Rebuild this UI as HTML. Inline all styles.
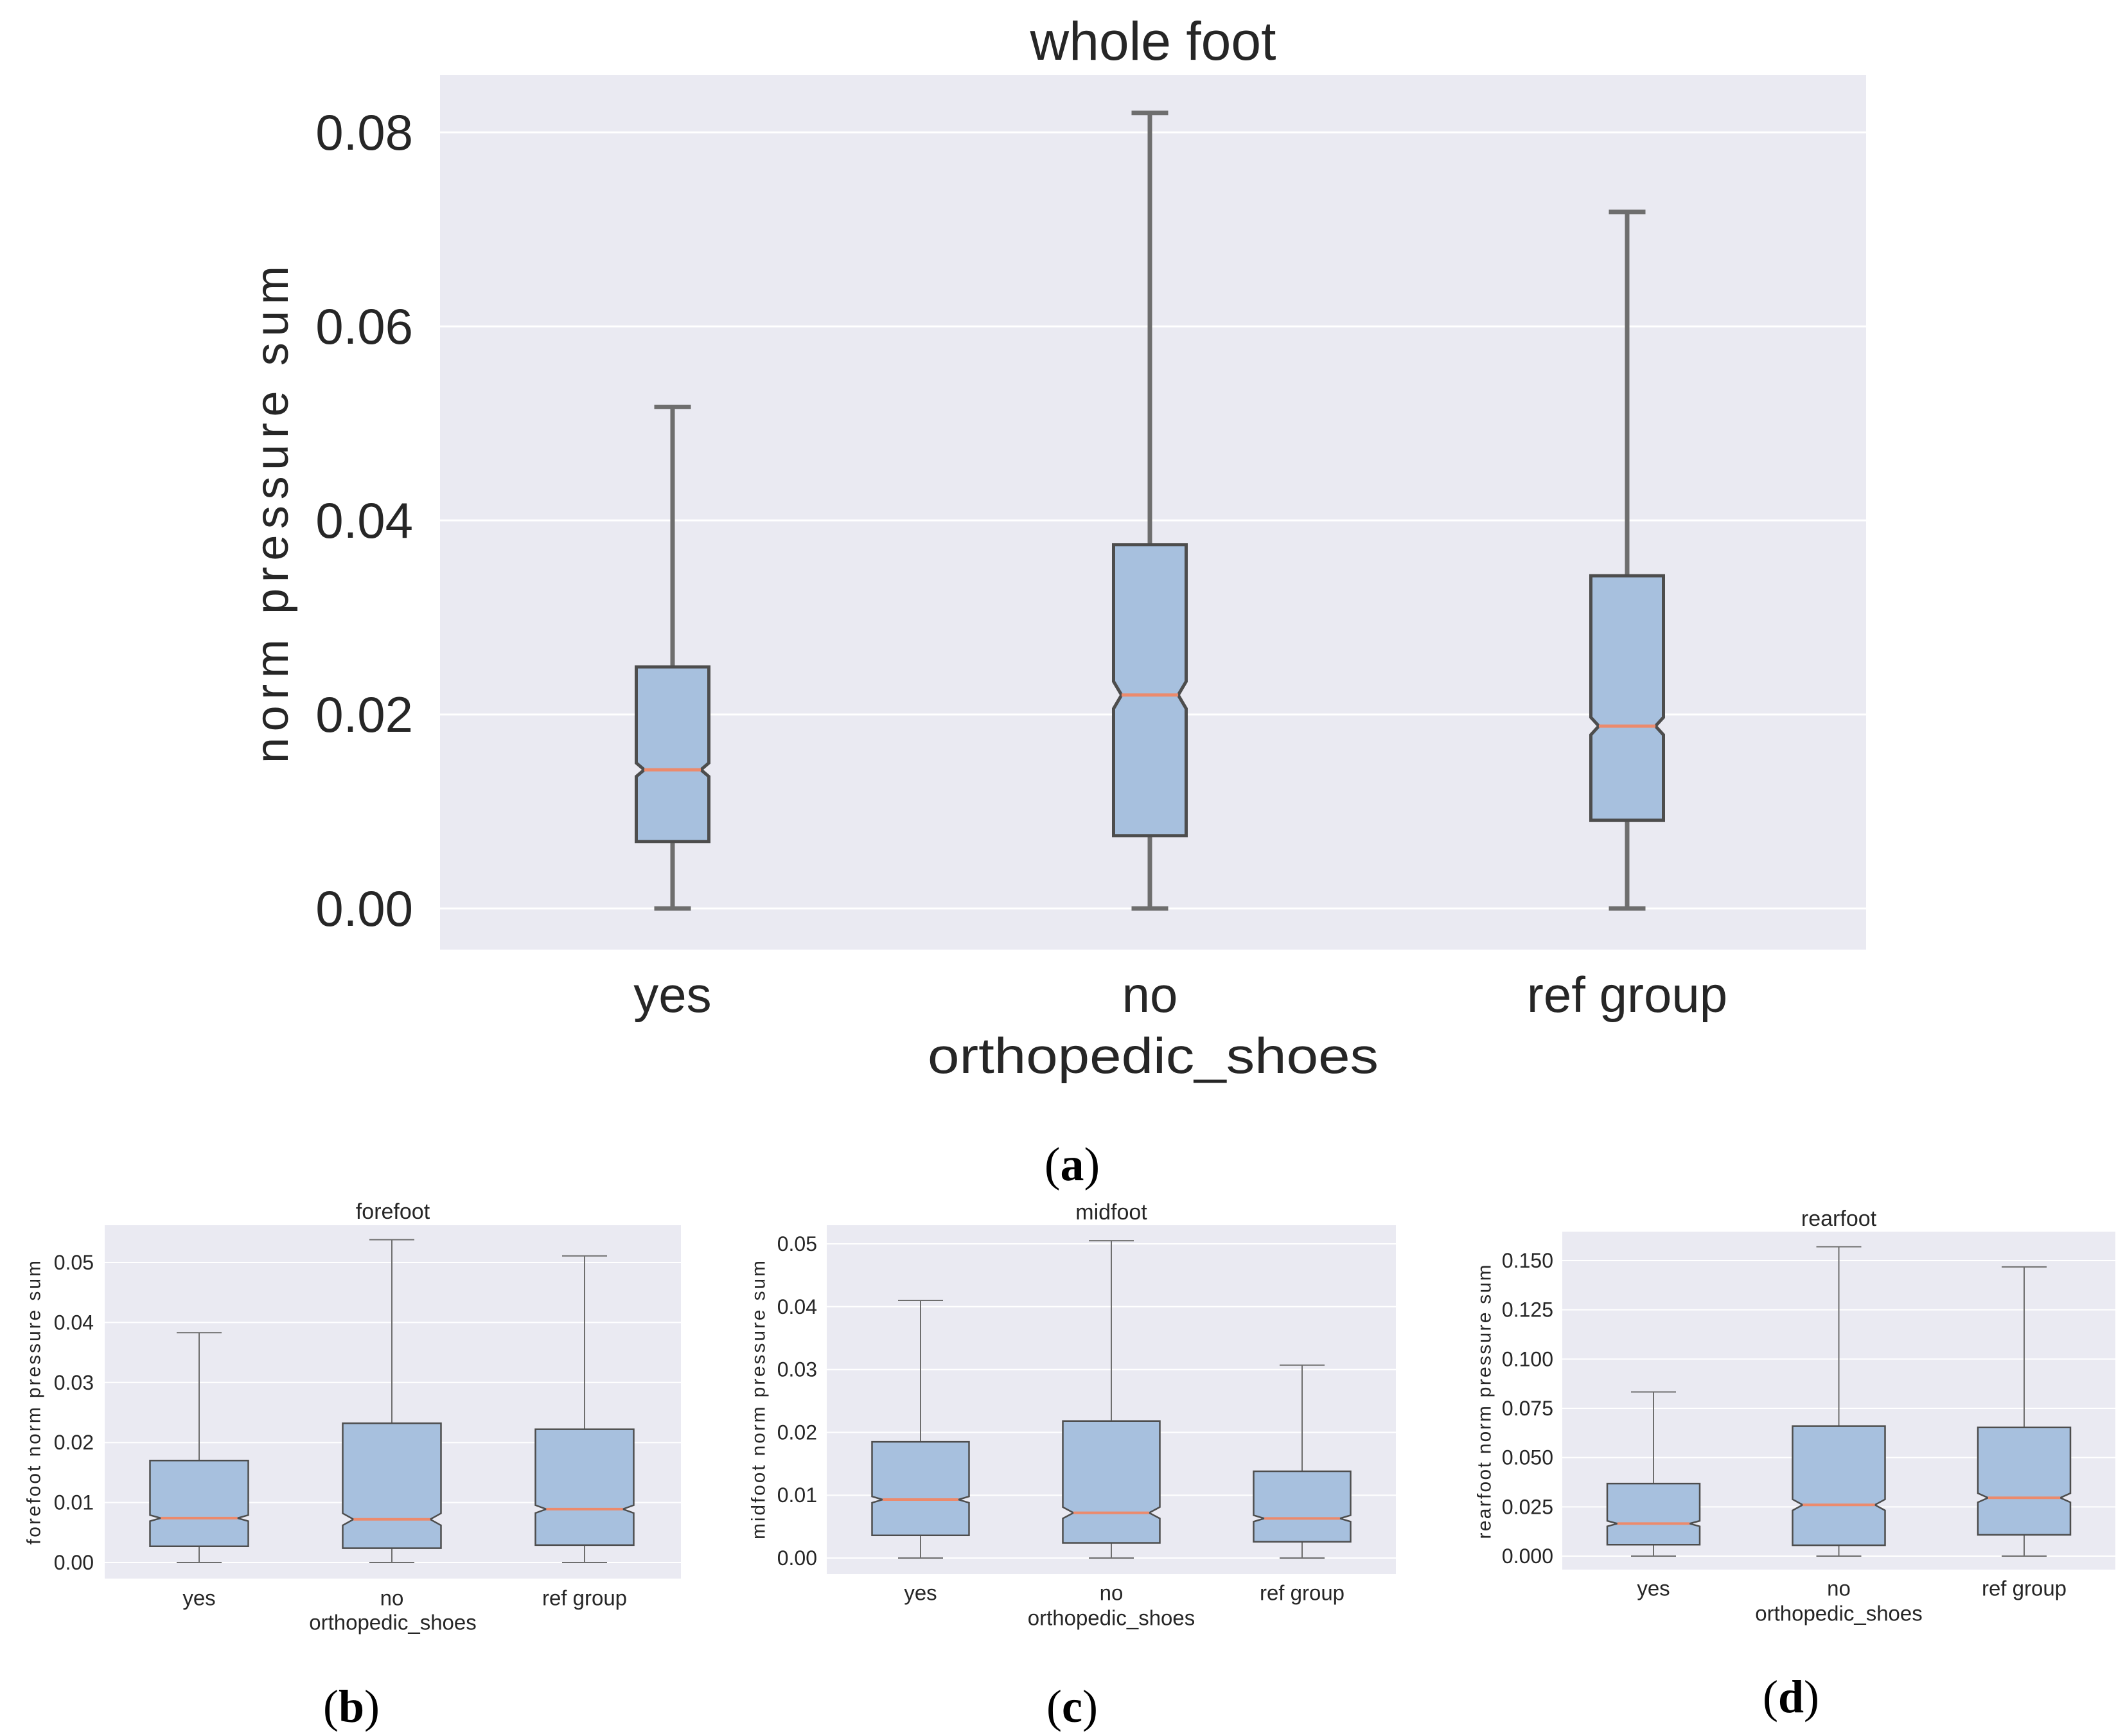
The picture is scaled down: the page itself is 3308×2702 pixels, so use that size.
<!DOCTYPE html>
<html><head><meta charset="utf-8"><style>
html,body{margin:0;padding:0;background:#fff;}
svg{display:block;font-family:"Liberation Sans",sans-serif;}
</style></head><body>
<svg id="fig" width="3308" height="2702" viewBox="0 0 3308 2702" xmlns="http://www.w3.org/2000/svg"></svg>
<script>
// ---- data ----
const categories = ['yes','no','ref group'];
// whole foot
const wholeLo = [0, 0, 0];
const wholeQ1 = [0.0069, 0.0075, 0.0091];
const wholeMed = [0.0143, 0.0220, 0.0188];
const wholeQ3 = [0.0249, 0.0375, 0.0343];
const wholeHi = [0.0517, 0.0820, 0.0718];
const wholeNotch = [0.0007, 0.0014, 0.0009];
const wholeTicks = ['0.00','0.02','0.04','0.06','0.08'];
// forefoot
const foreLo = [0, 0, 0];
const foreQ1 = [0.0027, 0.0024, 0.0029];
const foreMed = [0.0074, 0.0072, 0.0089];
const foreQ3 = [0.0170, 0.0232, 0.0222];
const foreHi = [0.0383, 0.0538, 0.0511];
const foreNotch = [0.0005, 0.0010, 0.00065];
const foreTicks = ['0.00','0.01','0.02','0.03','0.04','0.05'];
// midfoot
const midLo = [0, 0, 0];
const midQ1 = [0.0036, 0.0024, 0.0026];
const midMed = [0.0093, 0.0072, 0.0063];
const midQ3 = [0.0185, 0.0218, 0.0138];
const midHi = [0.0410, 0.0505, 0.0307];
const midNotch = [0.0005, 0.0009, 0.0005];
const midTicks = ['0.00','0.01','0.02','0.03','0.04','0.05'];
// rearfoot
const rearLo = [0, 0, 0];
const rearQ1 = [0.0058, 0.0055, 0.0108];
const rearMed = [0.0165, 0.0260, 0.0296];
const rearQ3 = [0.0368, 0.0660, 0.0653];
const rearHi = [0.0833, 0.1570, 0.1468];
const rearNotch = [0.0014, 0.0028, 0.0023];
const rearTicks = ['0.000','0.025','0.050','0.075','0.100','0.125','0.150'];

const NS='http://www.w3.org/2000/svg';
const svg=document.getElementById('fig');
function mk(tag,attrs,parent){const e=document.createElementNS(NS,tag);for(const k in attrs)e.setAttribute(k,attrs[k]);(parent||svg).appendChild(e);return e;}
function txt(x,y,s,size,anchor,parent,extra){const t=mk('text',Object.assign({x:x,y:y,'font-size':size,'text-anchor':anchor||'middle','dominant-baseline':'central',fill:'#262626'},extra||{}),parent);t.textContent=s;return t;}

function chart(c){
  const g=mk('g',{});
  
  
  const bg=mk('rect',{x:c.px0,y:c.py0,width:c.px1-c.px0,height:c.py1-c.py0,fill:'#eaeaf2'},g);
  
  
  const y=v=>c.y0+(c.y1-c.y0)*(v-c.v0)/(c.v1-c.v0);
  const tv=c.ticks.map(Number);
  tv.forEach((v,i)=>{
    const l=mk('line',{x1:c.px0,x2:c.px1,y1:y(v),y2:y(v),stroke:'#fff','stroke-width':c.grid},g);
    
    
    const t=txt(c.tickX,y(v),c.ticks[i],c.tickFs,'end',g);
    
    
  });
  const xc=i=>c.cx0+i*c.dx;
  for(let i=0;i<categories.length;i++){
    const x=xc(i),hw=c.bw/2,nw=hw*0.78;
    const yq1=y(c.q1[i]),yq3=y(c.q3[i]),ym=y(c.med[i]),yl=y(c.med[i]-c.notch[i]),yh=y(c.med[i]+c.notch[i]);
    const wl=[[c.q1[i],c.lo[i]],[c.q3[i],c.hi[i]]];
    wl.forEach(p=>{
      const w=mk('line',{x1:x,x2:x,y1:y(p[0]),y2:y(p[1]),stroke:'#6e6e6e','stroke-width':c.wl},g);
      
      
      const cap=mk('line',{x1:x-c.cap/2,x2:x+c.cap/2,y1:y(p[1]),y2:y(p[1]),stroke:'#6e6e6e','stroke-width':c.wl},g);
      
      
    });
    const d=`M${x-hw},${yq1} L${x+hw},${yq1} L${x+hw},${yl} L${x+nw},${ym} L${x+hw},${yh} L${x+hw},${yq3} L${x-hw},${yq3} L${x-hw},${yh} L${x-nw},${ym} L${x-hw},${yl} Z`;
    const b=mk('path',{d:d,fill:'#a7c0de',stroke:'#4d4d4d','stroke-width':c.el,'stroke-linejoin':'miter'},g);
    
    
    const m=mk('line',{x1:x-nw,x2:x+nw,y1:ym,y2:ym,stroke:'#ec8a6c','stroke-width':c.ml},g);
    
    
    const t=txt(x,c.xtY,categories[i],c.xtFs,'middle',g);
    
    
  }
  const ti=txt((c.px0+c.px1)/2,c.titleY,c.title,c.titleFs,'middle',g);
  
  
  const xl=txt((c.px0+c.px1)/2,c.xlY,'orthopedic_shoes',c.xtFs,'middle',g,c.xlLen?{textLength:c.xlLen,lengthAdjust:'spacingAndGlyphs'}:{});
  
  
  const yl=txt(0,0,c.ylabel,c.ylFs,'middle',g,{transform:`translate(${c.ylX},${c.ylY}) rotate(-90)`,textLength:c.ylLen,lengthAdjust:'spacing'});
  
  
  const pl=mk('text',{x:c.capX,y:c.capY,'font-size':c.capFs,'text-anchor':'middle','dominant-baseline':'central','font-family':'Liberation Serif, serif',fill:'#000'},g);
  
  
  const s1=mk('tspan',{},pl); s1.textContent='(';
  const s2=mk('tspan',{'font-weight':'bold'},pl); s2.textContent=c.cap2;
  const s3=mk('tspan',{},pl); s3.textContent=')';
}

chart({name:'whole-foot',title:'whole foot',ylabel:'norm pressure sum',cap2:'a',
 px0:685,px1:2905,py0:117,py1:1478,y0:1414,y1:1112,v0:0,v1:0.02,ticks:wholeTicks,
 lo:wholeLo,q1:wholeQ1,med:wholeMed,q3:wholeQ3,hi:wholeHi,notch:wholeNotch,
 cx0:1047,dx:743,bw:113,cap:57,wl:7,el:5,ml:5,grid:3,
 tickX:643,tickFs:78,xtY:1548,xlY:1643,xtFs:78,xlLen:702,titleY:64,titleFs:84,
 ylX:424,ylY:801,ylFs:72,ylLen:774,capX:1669,capY:1813,capFs:74});
chart({name:'forefoot',title:'forefoot',ylabel:'forefoot norm pressure sum',cap2:'b',
 px0:163,px1:1060,py0:1907,py1:2457,y0:2432,y1:1965,v0:0,v1:0.05,ticks:foreTicks,
 lo:foreLo,q1:foreQ1,med:foreMed,q3:foreQ3,hi:foreHi,notch:foreNotch,
 cx0:310,dx:300,bw:153,cap:70,wl:2,el:2.5,ml:4,grid:2,
 tickX:146,tickFs:32,xtY:2487,xlY:2525,xtFs:33,titleY:1886,titleFs:34,
 ylX:53,ylY:2183,ylFs:30,ylLen:442,capX:547,capY:2656,capFs:72});
chart({name:'midfoot',title:'midfoot',ylabel:'midfoot norm pressure sum',cap2:'c',
 px0:1287,px1:2173,py0:1907,py1:2450,y0:2425,y1:1936,v0:0,v1:0.05,ticks:midTicks,
 lo:midLo,q1:midQ1,med:midMed,q3:midQ3,hi:midHi,notch:midNotch,
 cx0:1433,dx:297,bw:151,cap:70,wl:2,el:2.5,ml:4,grid:2,
 tickX:1272,tickFs:32,xtY:2479,xlY:2518,xtFs:33,titleY:1887,titleFs:34,
 ylX:1181,ylY:2179,ylFs:30,ylLen:434,capX:1669,capY:2656,capFs:72});
chart({name:'rearfoot',title:'rearfoot',ylabel:'rearfoot norm pressure sum',cap2:'d',
 px0:2432,px1:3293,py0:1917,py1:2443,y0:2422,y1:1962,v0:0,v1:0.15,ticks:rearTicks,
 lo:rearLo,q1:rearQ1,med:rearMed,q3:rearQ3,hi:rearHi,notch:rearNotch,
 cx0:2574,dx:288.5,bw:144,cap:70,wl:2,el:2.5,ml:4,grid:2,
 tickX:2418,tickFs:32,xtY:2472,xlY:2511,xtFs:33,titleY:1897,titleFs:34,
 ylX:2311,ylY:2182,ylFs:30,ylLen:427,capX:2788,capY:2641,capFs:72});
</script>
</body></html>
